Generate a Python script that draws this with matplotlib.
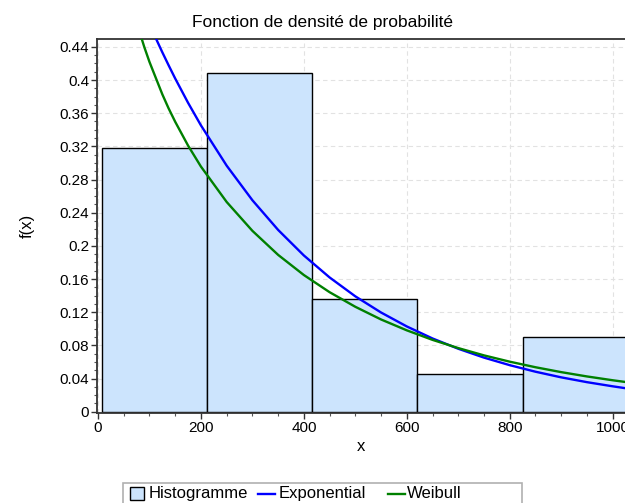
import matplotlib
matplotlib.use("Agg")
import matplotlib.pyplot as plt
from matplotlib.ticker import MultipleLocator
from matplotlib.patches import Rectangle
from matplotlib.lines import Line2D

# -------------------------------
# DATA
# -------------------------------
bin_edges = [7, 211.5, 416, 620.5, 825, 1029.5]
bin_heights = [0.318, 0.408, 0.136, 0.045, 0.090]

curve_x = [50, 75, 90, 100, 112, 125, 137, 150, 175, 200, 250, 300, 350, 400,
           450, 500, 550, 600, 650, 700, 750, 800, 850, 900, 950, 1000, 1025]
expo_y = [0.544, 0.504, 0.481, 0.4675, 0.4508, 0.4334, 0.4180, 0.4018,
          0.3725, 0.3453, 0.2967, 0.2550, 0.2192, 0.1884, 0.1619, 0.1391,
          0.1196, 0.1028, 0.0883, 0.0759, 0.0652, 0.0561, 0.0482, 0.0414,
          0.0356, 0.0306, 0.0283]
weib_y = [0.5314, 0.4693, 0.4396, 0.4218, 0.4030, 0.3827, 0.3660, 0.3496,
          0.3209, 0.2956, 0.2529, 0.2181, 0.1891, 0.1648, 0.1441, 0.1265,
          0.1112, 0.0981, 0.0866, 0.0767, 0.0679, 0.0603, 0.0536, 0.0477,
          0.0425, 0.0379, 0.0358]

legend_labels = ["Histogramme", "Exponential", "Weibull"]

plt.rcParams['font.family'] = ['Liberation Sans', 'DejaVu Sans']

W, H = 625, 503
fig = plt.figure(figsize=(W / 100, H / 100), dpi=100)
ax = fig.add_axes([97 / W, (H - 413) / H, (W - 97) / W, 374 / H])

bar_color = '#cce4fd'
blue = '#0000ff'
green = '#008000'

lefts = bin_edges[:-1]
widths = [bin_edges[i + 1] - bin_edges[i] for i in range(len(bin_heights))]
ax.bar(lefts, bin_heights, width=widths, align='edge', color=bar_color,
       edgecolor='black', linewidth=1.0, zorder=2)

ax.plot(curve_x, expo_y, color=blue, linewidth=1.7, zorder=3)
ax.plot(curve_x, weib_y, color=green, linewidth=1.7, zorder=3)

ax.set_xlim(-2, 1024)
ax.set_ylim(-0.0016, 0.4495)

ax.xaxis.set_major_locator(MultipleLocator(200))
ax.xaxis.set_minor_locator(MultipleLocator(50))
yt = [round(0.04 * i, 2) for i in range(12)]
ax.set_yticks(yt)
ax.set_yticklabels([('%g' % v) for v in yt])
ax.yaxis.set_minor_locator(MultipleLocator(0.01))

ax.tick_params(which='major', direction='out', length=4, width=1,
               labelsize=11, color='#333333', pad=1.5)
ax.tick_params(which='minor', direction='out', length=2.5, width=0.8,
               color='#555555')

ax.grid(True, which='major', linestyle=(0, (4, 3)), color='#e2e2e2',
        linewidth=0.8, zorder=0)
ax.set_axisbelow(True)

for s in ['left', 'bottom', 'top']:
    ax.spines[s].set_color('#333333')
    ax.spines[s].set_linewidth(1.3)
ax.spines['right'].set_visible(False)

ax.set_xlabel("x", fontsize=12, labelpad=3)
ax.set_ylabel("f(x)", fontsize=12, labelpad=18)

fig.text(322 / W, 1 - 22 / H, "Fonction de densité de probabilité",
         fontsize=12.5, ha='center', va='center')

# legend, drawn by hand to keep the reference spacing
def fx(px):
    return px / W

def fy(py):
    return 1 - py / H

fig.patches.append(Rectangle((fx(122.5), fy(510)), fx(521.5) - fx(122.5),
                             fy(482.5) - fy(510), transform=fig.transFigure,
                             facecolor='white', edgecolor='#b0b0b0',
                             linewidth=1.2))
fig.patches.append(Rectangle((fx(129.5), fy(500)), fx(144) - fx(129.5),
                             fy(487) - fy(500), transform=fig.transFigure,
                             facecolor=bar_color, edgecolor='black',
                             linewidth=1.0))
fig.lines.append(Line2D([fx(258), fx(275)], [fy(494), fy(494)],
                        transform=fig.transFigure, color=blue, linewidth=1.7))
fig.lines.append(Line2D([fx(388), fx(405)], [fy(494), fy(494)],
                        transform=fig.transFigure, color=green, linewidth=1.7))
for lx, txt in zip([149, 279, 407], legend_labels):
    fig.text(fx(lx), fy(493.5), txt, fontsize=12, ha='left', va='center')

fig.savefig("out.png", dpi=100)
